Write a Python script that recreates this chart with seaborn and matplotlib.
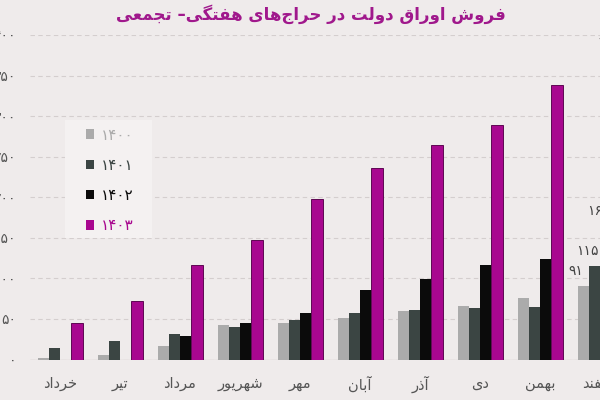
import pandas as pd
import numpy as np
import matplotlib
matplotlib.use("Agg")
import matplotlib.pyplot as plt
from matplotlib.patches import Rectangle
import seaborn as sns

# data (cumulative sales, by month)
months = ["خرداد", "تیر", "مرداد", "شهریور", "مهر", "آبان", "آذر", "دی", "بهمن", "اسفند"]
years = ["1400", "1401", "1402", "1403"]
v1400 = [2, 5, 17, 43, 45, 51, 60, 66, 76, 91]
v1401 = [14, 23, 31, 40, 49, 57, 61, 63, 65, 115]
v1402 = [0, 0, 29, 45, 57, 86, 99, 117, 124, 165]
v1403 = [45, 72, 117, 147, 198, 236, 264, 289, 338, 372]
yticks = [0, 50, 100, 150, 200, 250, 300, 350, 400]
title = "فروش اوراق دولت در حراج\u200cهای هفتگی– تجمعی"

colors = ["#ABABAB", "#3B4543", "#0B0B0B", "#A8078F"]

FA_DIGITS = str.maketrans("0123456789", "۰۱۲۳۴۵۶۷۸۹")


def fa(n):
    return str(n).translate(FA_DIGITS)


# contextual forms: isolated, final, initial, medial
FORMS = {
    "ا": ("\uFE8D", "\uFE8E", None, None),
    "آ": ("\uFE81", "\uFE82", None, None),
    "ب": ("\uFE8F", "\uFE90", "\uFE91", "\uFE92"),
    "ت": ("\uFE95", "\uFE96", "\uFE97", "\uFE98"),
    "ج": ("\uFE9D", "\uFE9E", "\uFE9F", "\uFEA0"),
    "ح": ("\uFEA1", "\uFEA2", "\uFEA3", "\uFEA4"),
    "خ": ("\uFEA5", "\uFEA6", "\uFEA7", "\uFEA8"),
    "د": ("\uFEA9", "\uFEAA", None, None),
    "ذ": ("\uFEAB", "\uFEAC", None, None),
    "ر": ("\uFEAD", "\uFEAE", None, None),
    "ز": ("\uFEAF", "\uFEB0", None, None),
    "س": ("\uFEB1", "\uFEB2", "\uFEB3", "\uFEB4"),
    "ش": ("\uFEB5", "\uFEB6", "\uFEB7", "\uFEB8"),
    "ع": ("\uFEC9", "\uFECA", "\uFECB", "\uFECC"),
    "ف": ("\uFED1", "\uFED2", "\uFED3", "\uFED4"),
    "ق": ("\uFED5", "\uFED6", "\uFED7", "\uFED8"),
    "ک": ("\uFB8E", "\uFB8F", "\uFB90", "\uFB91"),
    "گ": ("\uFB92", "\uFB93", "\uFB94", "\uFB95"),
    "ل": ("\uFEDD", "\uFEDE", "\uFEDF", "\uFEE0"),
    "م": ("\uFEE1", "\uFEE2", "\uFEE3", "\uFEE4"),
    "ن": ("\uFEE5", "\uFEE6", "\uFEE7", "\uFEE8"),
    "ه": ("\uFEE9", "\uFEEA", "\uFEEB", "\uFEEC"),
    "و": ("\uFEED", "\uFEEE", None, None),
    "ی": ("\uFBFC", "\uFBFD", "\uFBFE", "\uFBFF"),
}


def shape(s):
    out = []
    for i, ch in enumerate(s):
        if ch not in FORMS:
            out.append(ch)
            continue
        f = FORMS[ch]
        prev = s[i - 1] if i > 0 else ""
        nxt = s[i + 1] if i + 1 < len(s) else ""
        jp = prev in FORMS and FORMS[prev][2] is not None
        jn = f[2] is not None and nxt in FORMS
        if jp and jn:
            out.append(f[3])
        elif jp:
            out.append(f[1])
        elif jn:
            out.append(f[2])
        else:
            out.append(f[0])
    return "".join(out).replace("\u200c", "")[::-1]


rows = []
for y, vals in zip(years, [v1400, v1401, v1402, v1403]):
    for m, v in zip(months, vals):
        rows.append({"month": m, "year": fa(y), "value": v})
df = pd.DataFrame(rows)

sns.set_style("white")
plt.rcParams["font.family"] = ["DejaVu Sans"]
bg = "#EFEBEB"

fig, ax = plt.subplots(figsize=(6, 4), dpi=100)
fig.patch.set_facecolor(bg)
ax.set_facecolor(bg)

palette = {fa(y): c for y, c in zip(years, colors)}
sns.barplot(data=df, x="month", y="value", hue="year", order=months,
            hue_order=[fa(y) for y in years], palette=palette, width=0.75,
            saturation=1, ax=ax, linewidth=0)

for bar in ax.containers[3]:
    bar.set_edgecolor("#5E0752")
    bar.set_linewidth(0.7)

ax.set_position([30 / 600, 40.5 / 400, 570 / 600, 324.5 / 400])
ax.set_xlim(-0.5, 8.91)
ax.set_ylim(0, 400)
ax.set_yticks(yticks)
ax.set_yticklabels([fa(t) for t in yticks], fontsize=10, color="#555555")
ax.set_xticks(range(len(months)))
ax.set_xticklabels([shape(m) for m in months], fontsize=10.5, color="#555555")
ax.tick_params(axis="y", length=0, pad=10)
ax.tick_params(axis="x", length=0, pad=12)
ax.set_xlabel("")
ax.set_ylabel("")
for s in ax.spines.values():
    s.set_visible(False)
ax.yaxis.grid(True, color="#D4CECE", linestyle=(0, (4, 3)), linewidth=0.8)
ax.set_axisbelow(True)
ax.axhline(0, color="#D6D0D0", linewidth=1, zorder=0)

# value labels on the last month (mostly past the right edge)
last = len(months) - 1
bw = 0.75 / 4
for k, vals in enumerate([v1400, v1401, v1402, v1403]):
    xc = last - 0.375 + bw * (k + 0.5) - 0.12
    ax.text(xc, vals[last] + 10, fa(vals[last]), ha="center", va="bottom",
            fontsize=10, color="#444444", clip_on=False)

# legend panel
ax.add_patch(Rectangle((65 / 600, 1 - 238 / 400), 87 / 600, 118 / 400,
                       transform=fig.transFigure, facecolor="#F4F1F1",
                       edgecolor="none", zorder=4, clip_on=False))
leg = ax.legend(loc="upper left", bbox_to_anchor=(86 / 600, 1 - 127.5 / 400),
                bbox_transform=fig.transFigure, borderaxespad=0, borderpad=0,
                frameon=False, fontsize=11, labelspacing=1.0, handlelength=0.55,
                handleheight=0.55, handletextpad=0.45, title=None)
leg.set_zorder(6)
for txt, c in zip(leg.get_texts(), colors):
    txt.set_color(c)

fig.text(0.518, 0.965, shape(title), ha="center", va="center", fontsize=12,
         fontweight="bold", color="#A0188C")

fig.savefig("out.png", dpi=100, facecolor=bg)
